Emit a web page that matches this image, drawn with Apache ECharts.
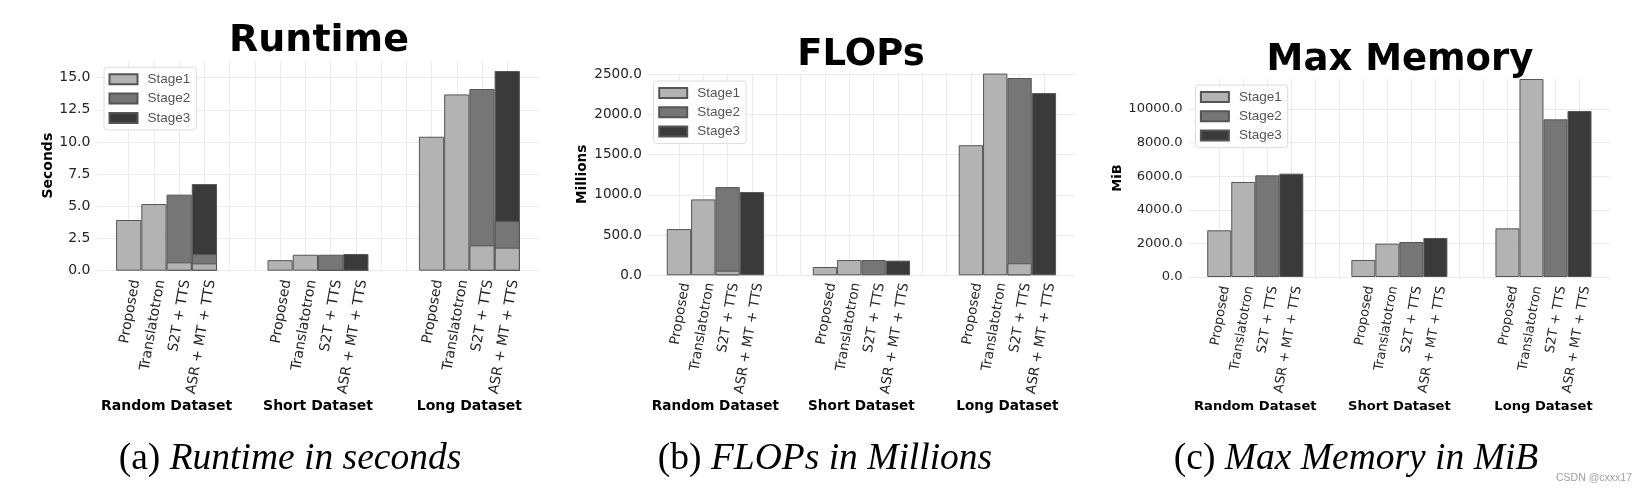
<!DOCTYPE html>
<html><head><meta charset="utf-8">
<script src="https://cdn.jsdelivr.net/npm/echarts@6/dist/echarts.min.js"></script>
<style>html,body{margin:0;padding:0;background:#fff}#c{width:1644px;height:492px}</style>
</head><body><div id="c"></div><script>
// ---------- data ----------
const categories = ['Proposed', 'Translatotron', 'S2T + TTS', 'ASR + MT + TTS'];
const datasets = ['Random Dataset', 'Short Dataset', 'Long Dataset'];
const stages = ['Stage1', 'Stage2', 'Stage3'];

// values ordered: Random[4 categories], Short[4], Long[4]
const runtimeStage1 = [3.94, 5.18, 0.65, 0.57,  0.82, 1.24, 0.03, 0.03,  10.41, 13.70, 1.97, 1.79];
const runtimeStage2 = [0, 0, 5.26, 0.72,  0, 0, 1.21, 0.03,  0, 0, 12.15, 2.07];
const runtimeStage3 = [0, 0, 0, 5.44,  0, 0, 0, 1.24,  0, 0, 0, 11.66];

const flopsStage1 = [575, 944, 58, 0,  103, 190, 0, 0,  1618, 2509, 150, 0];
const flopsStage2 = [0, 0, 1039, 0,  0, 0, 190, 0,  0, 0, 2304, 0];
const flopsStage3 = [0, 0, 0, 1035,  0, 0, 0, 182,  0, 0, 0, 2266];

const memoryStage1 = [2780, 5655, 0, 0,  1012, 1984, 0, 0,  2897, 11786, 0, 0];
const memoryStage2 = [0, 0, 6052, 0,  0, 0, 2083, 0,  0, 0, 9385, 0];
const memoryStage3 = [0, 0, 0, 6151,  0, 0, 0, 2321,  0, 0, 0, 9881];

const runtimeTicks = [0, 2.5, 5, 7.5, 10, 12.5, 15];
const flopsTicks = [0, 500, 1000, 1500, 2000, 2500];
const memoryTicks = [0, 2000, 4000, 6000, 8000, 10000];

const titles = ['Runtime', 'FLOPs', 'Max Memory'];
const yNames = ['Seconds', 'Millions', 'MiB'];
const captionLetters = ['(a) ', '(b) ', '(c) '];
const captionTexts = ['Runtime in seconds', 'FLOPs in Millions', 'Max Memory in MiB'];

// ---------- layout / style ----------
const stageColors = ['#b3b3b3', '#767676', '#3a3a3a'];
const gridColor = '#ebebeb';
const tickColor = '#262626';
const panels = [
  {grid: {left: 96.4, top: 60.7, width: 442.9, height: 210}, ymax: 16.32, ticks: runtimeTicks,
   vals: [runtimeStage1, runtimeStage2, runtimeStage3], nameGap: 39.5, fs: 14, labelMargin: 8,
   legend: {left: 104, top: 67.3}, title: {x: 319, top: 22, size: 38}, caption: {x: 290}, groupMargin: 129},
  {grid: {left: 647.8, top: 73.5, width: 427, height: 201.8}, ymax: 2510, ticks: flopsTicks,
   vals: [flopsStage1, flopsStage2, flopsStage3], nameGap: 58, fs: 13.6, labelMargin: 6.5,
   legend: {left: 653.7, top: 81}, title: {x: 861, top: 36.5, size: 37}, caption: {x: 825}, groupMargin: 124.4},
  {grid: {left: 1188.5, top: 79, width: 421.5, height: 198}, ymax: 11786, ticks: memoryTicks,
   vals: [memoryStage1, memoryStage2, memoryStage3], nameGap: 60.5, fs: 13.1, labelMargin: 8,
   legend: {left: 1195.4, top: 85}, title: {x: 1400, top: 42, size: 37}, caption: {x: 1356}, groupMargin: 123}
];
const slotsPerGroup = categories.length + 2;
const xMin = -1.28, xMax = 16.27;

// bar positions on the x scale (one slot per bar, two empty slots between datasets)
const xPos = [];
const xLabel = {};
datasets.forEach((d, g) => categories.forEach((c, k) => {
  const x = g * slotsPerGroup + k;
  xPos.push(x);
  xLabel[x] = c;
}));
const groupPos = datasets.map((d, g) => g * slotsPerGroup + (categories.length - 1) / 2);
const gridLinePos = [];
for (let x = 0; x <= xPos[xPos.length - 1]; x++) gridLinePos.push(x);

const option = {
  animation: false,
  backgroundColor: '#ffffff',
  grid: [], xAxis: [], yAxis: [], series: [], legend: [], title: []
};

panels.forEach((p, i) => {
  option.grid.push(Object.assign({outerBoundsMode: 'none', containLabel: false}, p.grid));
  option.xAxis.push({
    type: 'value', gridIndex: i, min: xMin, max: xMax, position: 'bottom',
    axisLine: {show: false}, axisTick: {show: false}, splitLine: {show: false},
    axisLabel: {
      customValues: xPos, formatter: v => xLabel[Math.round(v)] || '',
      rotate: 80, align: 'right', verticalAlign: 'top', margin: p.labelMargin,
      fontFamily: 'DejaVu Sans', fontSize: p.fs, color: tickColor
    }
  });
  option.xAxis.push({
    type: 'value', gridIndex: i, min: xMin, max: xMax, position: 'bottom', offset: 0,
    axisLine: {show: false}, axisTick: {show: false}, splitLine: {show: false},
    axisLabel: {
      customValues: groupPos,
      formatter: v => datasets[groupPos.indexOf(v)] || '',
      margin: p.groupMargin, fontFamily: 'DejaVu Sans', fontWeight: 'bold', fontSize: p.fs, color: '#000'
    }
  });
  option.yAxis.push({
    type: 'value', gridIndex: i, min: p.ticks[0], max: p.ymax, interval: p.ticks[1] - p.ticks[0],
    name: yNames[i], nameLocation: 'middle', nameGap: p.nameGap,
    nameTextStyle: {fontFamily: 'DejaVu Sans', fontWeight: 'bold', fontSize: p.fs, color: '#000'},
    axisLine: {show: false}, axisTick: {show: false},
    axisLabel: {formatter: v => v.toFixed(1), showMaxLabel: false, margin: 6,
      fontFamily: 'DejaVu Sans', fontSize: p.fs, color: tickColor},
    splitLine: {show: true, showMaxLine: false, lineStyle: {color: gridColor, width: 1}}
  });
  // stages drawn as overlapping bars: each stage bar reaches the cumulative total up to that stage,
  // drawn from the top stage down so the lower stages stay visible.
  const seriesOfPanel = stages.map((s, k) => {
    const data = xPos.map((x, j) => {
      if (!(p.vals[k][j] > 0)) return [x, '-'];
      let cum = 0;
      for (let m = 0; m <= k; m++) cum += p.vals[m][j];
      return [x, cum];
    });
    return {
      type: 'bar', name: s, xAxisIndex: 2 * i, yAxisIndex: i,
      barWidth: '100%', barGap: '-100%',
      data: data,
      itemStyle: {color: stageColors[k], borderColor: '#555555', borderWidth: 1},
      emphasis: {disabled: true}
    };
  });
  seriesOfPanel[0].markLine = {
    silent: true, z: 1, symbol: ['none', 'none'], label: {show: false},
    lineStyle: {color: gridColor, width: 1, type: 'solid'},
    emphasis: {disabled: true},
    data: gridLinePos.map(x => ({xAxis: x}))
  };
  for (let k = stages.length - 1; k >= 0; k--) option.series.push(seriesOfPanel[k]);

  option.legend.push({
    data: stages, left: p.legend.left, top: p.legend.top, orient: 'vertical',
    icon: 'rect', itemWidth: 28, itemHeight: 10, itemGap: 5.3, padding: [5, 6, 5, 4.5],
    backgroundColor: '#ffffff', borderColor: '#dcdcdc', borderWidth: 1, borderRadius: 3,
    selectedMode: false,
    textStyle: {fontFamily: 'Liberation Sans', fontSize: 13.5, color: '#555555', lineHeight: 14, padding: [0, 0, 0, 5]}
  });
  option.title.push({
    text: titles[i], left: p.title.x, top: p.title.top, textAlign: 'center', padding: 0,
    textStyle: {fontFamily: 'DejaVu Sans', fontWeight: 'bold', fontSize: p.title.size, color: '#000'}
  });
  option.title.push({
    text: '{n|' + captionLetters[i] + '}{i|' + captionTexts[i] + '}',
    left: p.caption.x, top: 440, textAlign: 'center', padding: 0,
    textStyle: {fontWeight: 'normal', rich: {
      n: {fontFamily: 'Liberation Serif', fontWeight: 'normal', fontSize: 37.5, color: '#000'},
      i: {fontFamily: 'Liberation Serif', fontWeight: 'normal', fontStyle: 'italic', fontSize: 37.5, color: '#000'}
    }}
  });
});
option.title.push({
  text: 'CSDN @cxxx17', left: 1556, top: 472.5, padding: 0,
  textStyle: {fontFamily: 'Liberation Sans', fontSize: 10.5, fontWeight: 'normal', color: '#a0a0a0'}
});

const chart = echarts.init(document.getElementById('c'), null, {renderer: 'canvas'});
chart.setOption(option);
</script></body></html>
